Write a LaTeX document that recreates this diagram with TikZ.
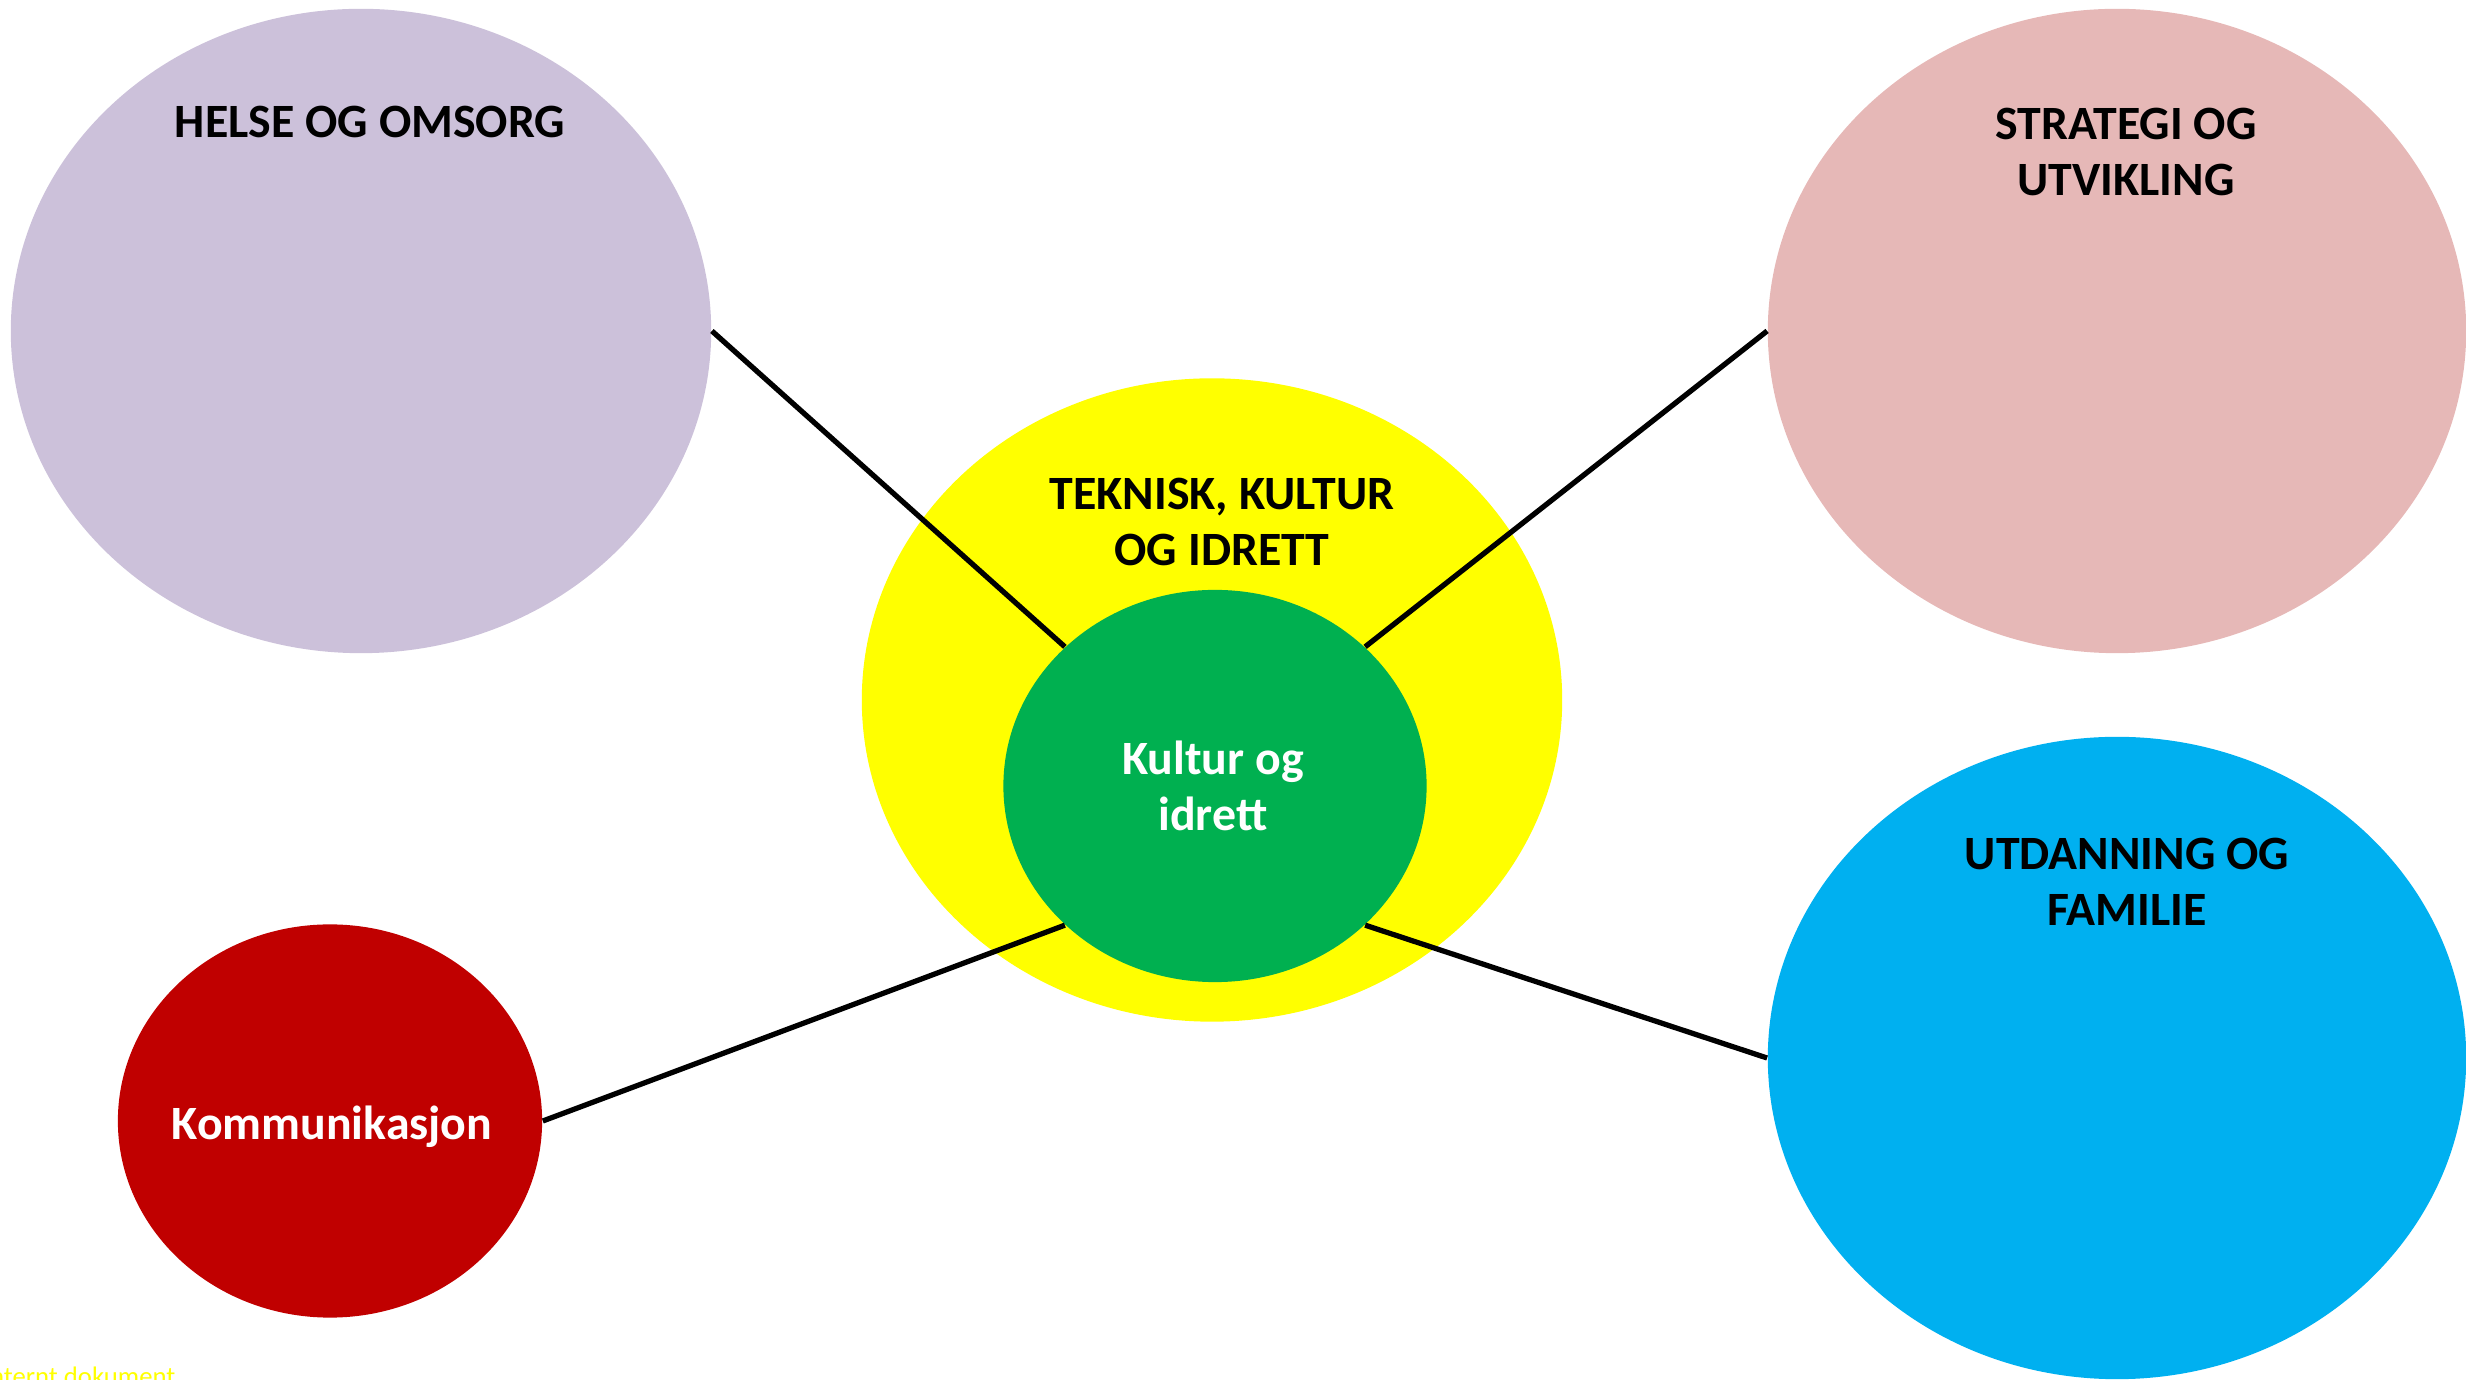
\documentclass[tikz,border=0pt]{standalone}
\usepackage{fontspec}
\setmainfont{Carlito}
\usetikzlibrary{shapes.geometric}
\definecolor{helsecol}{HTML}{CCC1DA}
\definecolor{strategicol}{HTML}{E6B8B7}
\definecolor{teknikcol}{HTML}{FFFF00}
\definecolor{kulturcol}{HTML}{00B050}
\definecolor{utdancol}{HTML}{00B0F0}
\definecolor{kommcol}{HTML}{C00000}
\begin{document}
\begin{tikzpicture}[x=0.01cm,y=-0.01cm,
    blob/.style={ellipse,inner sep=0pt,draw=none},
    lbl/.style={font=\bfseries\fontsize{13.6}{16.1}\selectfont,align=center,inner sep=0pt},
    link/.style={line width=1.5pt,black}]
\useasboundingbox (0,0) rectangle (2466,1380);
% the circles
\node[blob,fill=helsecol,minimum width=7cm,minimum height=6.44cm] (helse) at (361,331) {};
\node[blob,fill=strategicol,minimum width=6.98cm,minimum height=6.44cm] (strategi) at (2117,331) {};
\node[blob,fill=teknikcol,minimum width=7cm,minimum height=6.43cm] (teknisk) at (1212,700) {};
\node[blob,fill=utdancol,minimum width=6.98cm,minimum height=6.42cm] (utdanning) at (2117,1058) {};
\node[blob,fill=kommcol,minimum width=4.24cm,minimum height=3.93cm] (komm) at (330,1121) {};
\node[blob,fill=kulturcol,minimum width=4.23cm,minimum height=3.92cm] (kultur) at (1215,786) {};
% the links
\draw[link] (helse.east) -- (kultur.north west);
\draw[link] (strategi.west) -- (kultur.north east);
\draw[link] (komm.east) -- (kultur.south west);
\draw[link] (utdanning.west) -- (kultur.south east);
% the labels
\node[lbl,anchor=base] (helsetxt) at (370,138) {HELSE OG OMSORG};
\node[lbl,anchor=north] (strategitxt) at (2126,107) {STRATEGI OG\\UTVIKLING};
\node[lbl,anchor=north] (teknisktxt) at (1222,477) {TEKNISK, KULTUR\\OG IDRETT};
\node[lbl,anchor=north,white] (kulturtxt) at (1213,740) {Kultur og\\idrett};
\node[lbl,anchor=north] (utdanningtxt) at (2127,837) {UTDANNING OG\\FAMILIE};
\node[lbl,anchor=base,white] (kommtxt) at (332,1140) {Kommunikasjon};
\node[anchor=base east,inner sep=0pt,teknikcol,font=\fontsize{7.6}{9}\selectfont] (footer) at (176,1386) {Internt dokument};
\end{tikzpicture}
\end{document}
